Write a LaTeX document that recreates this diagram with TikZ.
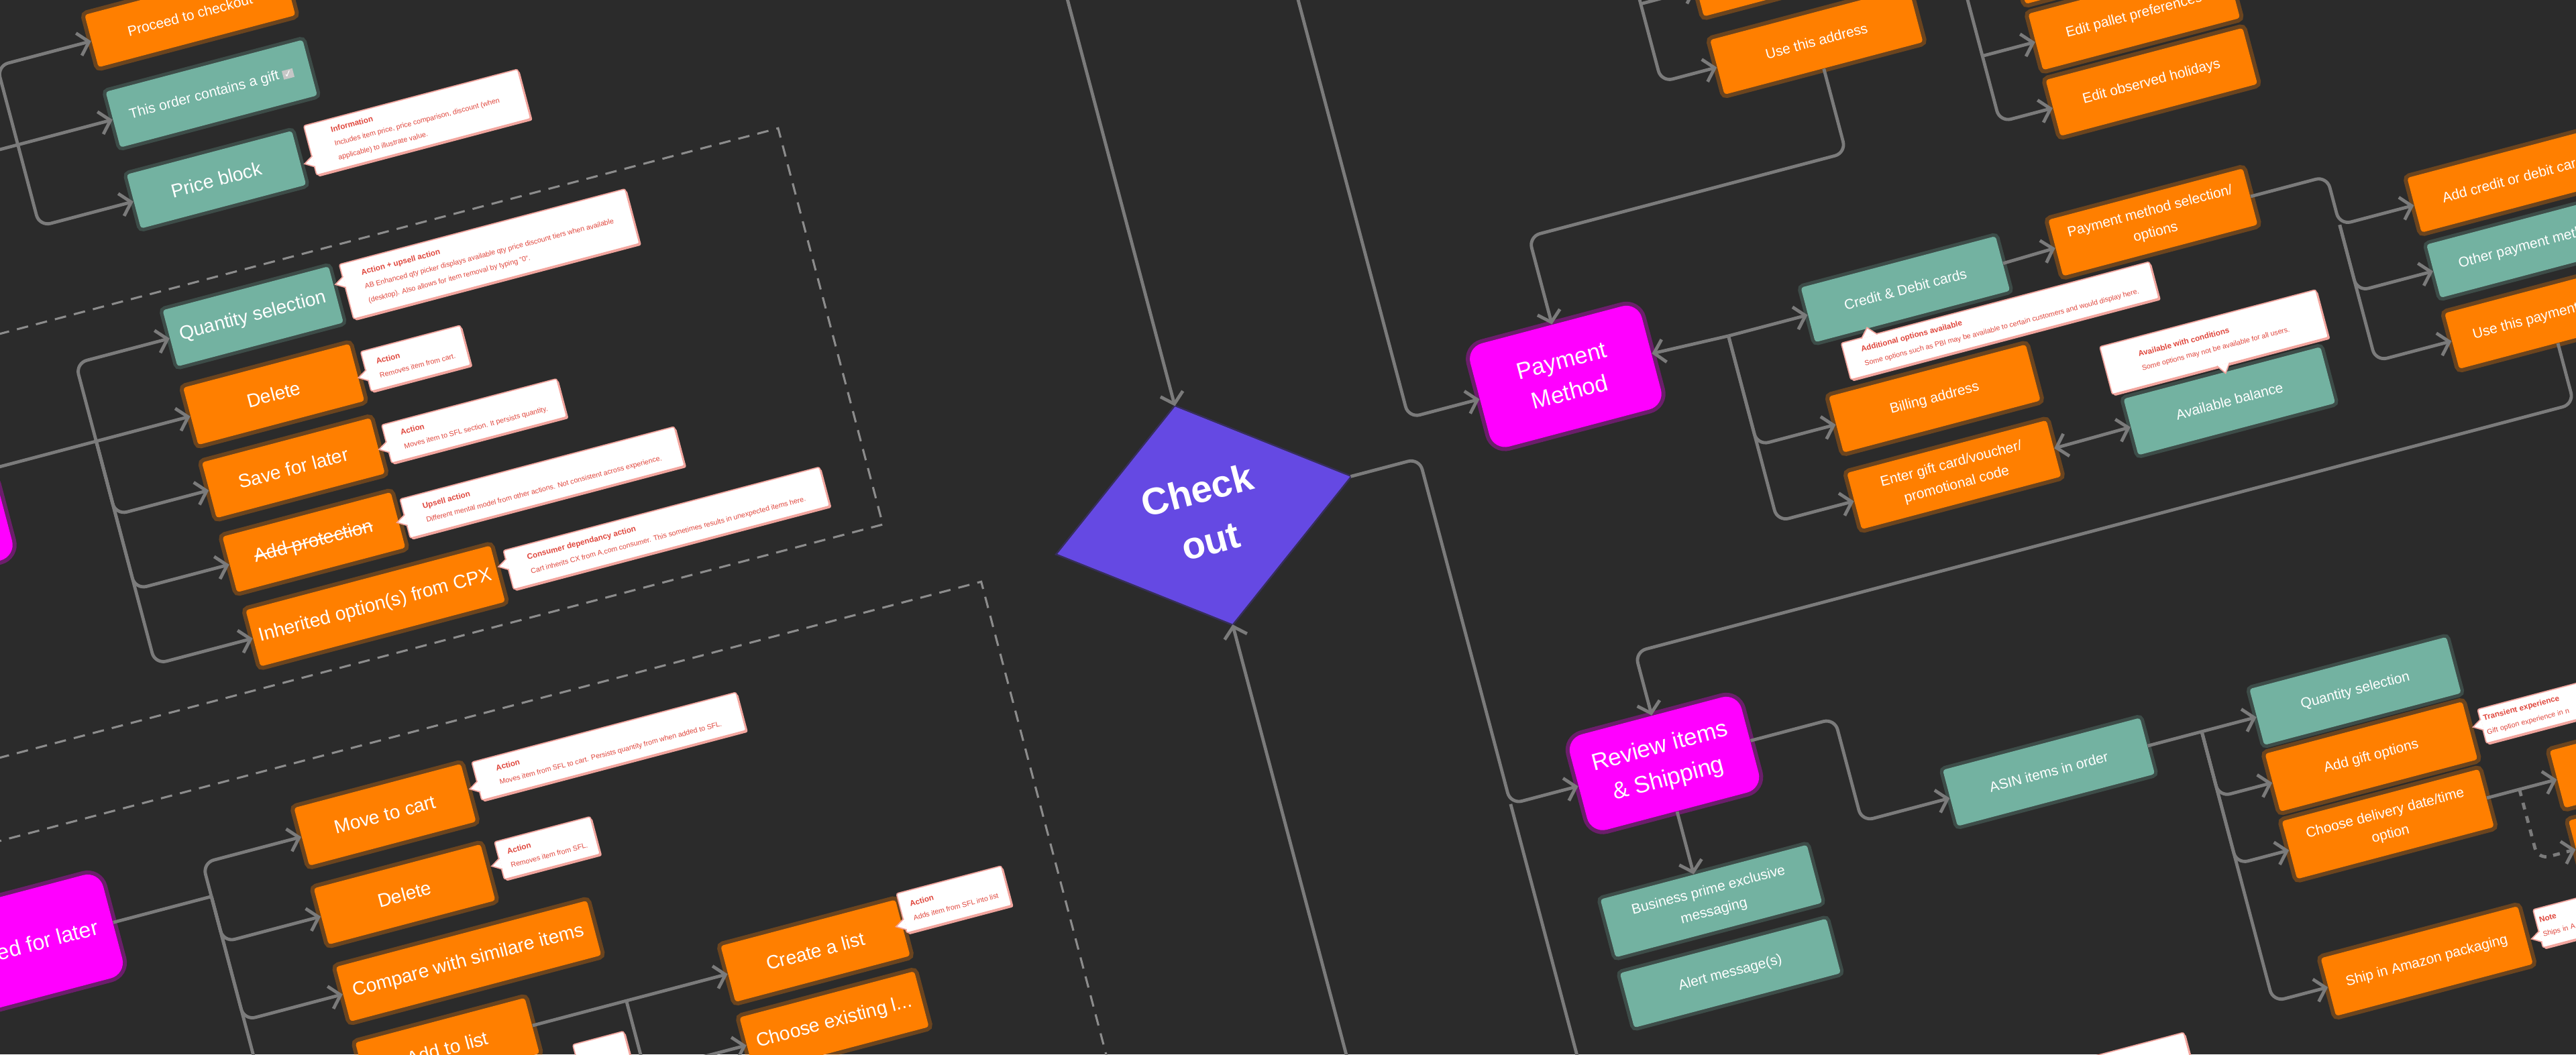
\documentclass[tikz,border=0pt]{standalone}
\usepackage{fontspec}
\setmainfont{Liberation Sans}
\newfontfamily\symfont{DejaVu Sans}
\usetikzlibrary{arrows.meta,shapes.geometric,shadows,calc}
\definecolor{bgc}{HTML}{2B2B2B}
\definecolor{org}{HTML}{FF7F00}
\definecolor{tea}{HTML}{73B2A1}
\definecolor{mag}{HTML}{FF00FF}
\definecolor{vio}{HTML}{6549E3}
\definecolor{lnc}{HTML}{7B7B7B}
\definecolor{dsh}{HTML}{8C8C8C}
\definecolor{calr}{HTML}{E0473D}
\definecolor{calb}{HTML}{F2A59E}
\newcommand\ctitle[1]{{\bfseries\fontsize{3.4}{6.2}\selectfont #1}}
\newsavebox\stbox
\newcommand\strikeit[1]{\sbox\stbox{#1}\rlap{\rule[0.3em]{\wd\stbox}{0.55pt}}\usebox\stbox}
\newcommand\chkbox{{\setlength\fboxsep{0.6pt}\colorbox{white!55!gray}{\symfont\fontsize{4.2}{5}\selectfont\color{white}✓}}}
% left-pointing callout notch: node name, vertical offset from centre
\newcommand\lptr[2]{\fill[ptr] ($(#1.west)+(0.8,#2-3.5)$) -- ($(#1.west)+(-5,#2)$) -- ($(#1.west)+(0.8,#2+3.5)$);}
\begin{document}
\begin{tikzpicture}[x=0.025cm,y=-0.025cm,
  sz/.style 2 args={minimum width=#1*0.025cm,minimum height=#2*0.025cm},
  box/.style={rectangle,rounded corners=1.2pt,inner sep=1pt,text=white,align=center,font=\fontsize{6.1}{9.3}\selectfont},
  lg/.style={font=\fontsize{8.2}{10}\selectfont},
  ob/.style={box,fill=org,preaction={draw=org,line width=3.5pt,opacity=0.3}},
  tb/.style={box,fill=tea,preaction={draw=tea,line width=3pt,opacity=0.25}},
  mb/.style={box,fill=mag,rounded corners=7pt,preaction={draw=mag,line width=3.5pt,opacity=0.3}},
  conn/.style={draw=lnc,line width=1.4pt,rounded corners=5pt},
  arr/.style={conn,-{Straight Barb[length=4.5pt,width=10pt]}},
  dbox/.style={draw=dsh,line width=0.9pt,dash pattern=on 5pt off 3.5pt},
  cal/.style={rectangle,fill=white,draw=calb,line width=0.5pt,rounded corners=0.8pt,inner sep=1.5pt,text=calr,align=left,font=\fontsize{3.1}{6.2}\selectfont,drop shadow={shadow xshift=0.6pt,shadow yshift=-0.9pt,fill=calb,opacity=1}},
  ptr/.style={fill=white,draw=calb,line width=0.5pt},
]
\useasboundingbox (0,0) rectangle (1568,642);
\fill[bgc] (0,0) rectangle (1568,642);
\clip (0,0) rectangle (1568,642);
\begin{scope}[transform canvas={rotate=14.8}]
% dashed group frames
\draw[dbox] (-300,196.5) rectangle (438,446);
\draw[dbox] (-300,495) rectangle (487,1060);
% trunk / source coordinates
\coordinate (t0) at (-12,0);
\coordinate (t1) at (-12,0);
\coordinate (t2) at (-15,0);
\coordinate (t3) at (213,0);
\coordinate (t4) at (764,0);
\coordinate (t7) at (965,0);
\coordinate (t8) at (1342,0);
\coordinate (t9) at (968,0);
\coordinate (t10) at (1182,0);
\coordinate (t11) at (1360,0);
\coordinate (src0) at (-90,0);
\coordinate (src1) at (628.3,60);
\coordinate (src2) at (764,60);
\coordinate (src4) at (628.3,1000);
\coordinate (src5) at (965,120);
\coordinate (src6) at (1158,180);
\coordinate (h1) at (0,377);
\coordinate (h2) at (0,638);
% group 0
\node[ob,sz={124}{33}] (proc) at (109.5,38.4) {Proceed to checkout};
\node[tb,sz={124}{35}] (gift) at (109.9,88) {This order contains a gift \chkbox};
\node[tb,lg,sz={104}{34}] (price) at (99.4,139.4) {Price block};
\node[cal,sz={134.7}{31.1}] (pricec) at (226.5,136.8) {\ctitle{Information}\\Includes item price, price comparison, discount (when\\applicable) to illustrate value.};
\lptr{pricec}{7}
% group 1
\node[mb,sz={130}{55}] (cart) at (-142,302.5) {};
\node[tb,lg,sz={104.5}{35.4}] (qty1) at (99.7,225.6) {Quantity selection};
\node[cal,sz={180}{34.4}] (qty1c) at (248.5,225.6) {\ctitle{Action + upsell action}\\AB Enhanced qty picker displays available qty price discount tiers when available\\(desktop). Also allows for item removal by typing "0".};
\lptr{qty1c}{-6}
\node[ob,lg,sz={104.6}{36}] (del1) at (99.8,274.7) {Delete};
\node[cal,sz={62.7}{25}] (del1c) at (188.9,275.6) {\ctitle{Action}\\Removes item from cart.};
\lptr{del1c}{2.5}
\node[ob,lg,sz={106}{35}] (save1) at (99.9,321.1) {Save for later};
\node[cal,sz={110.2}{24}] (save1c) at (213.6,321.5) {\ctitle{Action}\\Moves item to SFL section. It persists quantity.};
\lptr{save1c}{2}
\node[ob,lg,sz={106}{35}] (prot) at (100.4,368) {\strikeit{Add protection}};
\node[cal,sz={172.7}{24.6}] (protc) at (244.1,368.3) {\ctitle{Upsell action}\\Different mental model from other actions. Not consistent across experience.};
\lptr{protc}{1}
\node[ob,lg,sz={154}{35.4}] (inh) at (126.7,415.1) {Inherited option(s) from CPX};
\node[cal,sz={199}{24.5}] (inhc) at (310.1,414.6) {\ctitle{Consumer dependancy action}\\Cart inherits CX from A.com consumer. This sometimes results in unexpected items here.};
\lptr{inhc}{-3.5}
% group 2
\node[mb,sz={105}{65},font=\fontsize{9.4}{11}\selectfont] (saved) at (-129.6,560.6) {Saved for later};
\node[ob,lg,sz={105}{36.4}] (move) at (99.9,539.5) {Move to cart};
\node[cal,sz={166.4}{24}] (movec) at (242.3,534) {\ctitle{Action}\\Moves item from SFL to cart. Persists quantity from when added to SFL.};
\lptr{movec}{3.5}
\node[ob,lg,sz={105}{35.4}] (del2) at (99,589.4) {Delete};
\node[cal,sz={60.3}{23.6}] (del2c) at (190.2,584.3) {\ctitle{Action}\\Removes item from SFL.};
\lptr{del2c}{2}
\node[ob,lg,sz={158}{34.4}] (comp) at (126.3,638.6) {Compare with similare items};
\node[ob,lg,sz={106.7}{35}] (addl) at (100.3,686.5) {Add to list};
\node[cal,sz={32}{24}] (addlc) at (190.6,716) {};
\lptr{addlc}{2}
\node[ob,lg,sz={110}{35.3}] (create) at (332,686.5) {Create a list};
\node[cal,sz={66}{24.8}] (createc) at (421.6,677.8) {\ctitle{Action}\\Adds item from SFL into list};
\lptr{createc}{7}
\node[ob,lg,sz={110}{35}] (choose) at (332,731.4) {Choose existing l...};
% center
\node[diamond,fill=vio,sz={184.5}{137},inner sep=0pt,text=white,align=center,font=\bfseries\fontsize{16.4}{22.8}\selectfont,preaction={draw=vio!70!black,line width=1.5pt,opacity=0.4}] (co) at (628.3,490.5) {Check\\out};
\node[mb,sz={108}{65},font=\fontsize{10.1}{14}\selectfont] (pay) at (862.9,465) {Payment\\Method};
% right top
\node[ob,sz={125}{34.4}] (addr0) at (1062.7,257.4) {};
\node[ob,sz={125}{34.4}] (addr) at (1062.7,306.6) {Use this address};
\node[ob,sz={124}{35.4}] (edit0) at (1253.5,299.6) {};
\node[ob,sz={124}{35.4}] (edit1) at (1253.5,341.2) {Edit pallet preferences};
\node[ob,sz={124}{35.3}] (edit2) at (1253.5,382.8) {Edit observed holidays};
\node[tb,sz={122.6}{34.4}] (cred) at (1076.4,466.5) {Credit \& Debit cards};
\node[cal,sz={194}{23}] (credc) at (1127.2,499.8) {\ctitle{Additional options available}\\Some options such as PBI may be available to certain customers and would display here.};
\fill[ptr] ($(credc.north west)+(13,0.8)$) -- ($(credc.north west)+(18,-4.8)$) -- ($(credc.north west)+(23,0.8)$);
\node[ob,sz={122.5}{35.4}] (pms) at (1232.5,465.6) {Payment method selection/\\options};
\node[ob,sz={124}{35.3}] (bill) at (1076.6,535.4) {Billing address};
\node[ob,sz={125.6}{35.4}] (egift) at (1076.2,583.3) {Enter gift card/voucher/\\promotional code};
\node[tb,sz={124}{35.4}] (bal) at (1249.7,582.7) {Available balance};
\node[cal,sz={136}{30}] (balc) at (1249.8,545.6) {\ctitle{Available with conditions}\\Some options may not be available for all users.};
\fill[ptr] ($(balc.south)+(-2,-0.8)$) -- ($(balc.south)+(2,4.8)$) -- ($(balc.south)+(6,-0.8)$);
\node[ob,sz={124}{34.4}] (addcc) at (1451,496.2) {Add credit or debit card};
\node[tb,sz={124}{33.5}] (other) at (1452,538) {Other payment methods};
\node[ob,sz={124}{35}] (usepay) at (1452,582) {Use this payment method};
% bottom right
\node[mb,sz={108}{60},font=\fontsize{10.2}{14.5}\selectfont] (rev) at (860.8,708.2) {Review items\\\& Shipping};
\node[tb,sz={130}{36.5}] (biz) at (867,796.5) {Business prime exclusive\\messaging};
\node[tb,sz={130}{34.3}] (alert) at (867,841.9) {Alert message(s)};
\node[tb,sz={124.2}{35.4}] (asin) at (1085.7,773) {ASIN items in order};
\node[tb,sz={124}{35.3}] (qty2) at (1278.7,773) {Quantity selection};
\node[ob,sz={124.2}{36.4}] (gifto) at (1277.9,814.1) {Add gift options};
\node[cal,anchor=west,text width=4cm,minimum height=21.4*0.025cm] (giftoc) at (1347.4,813.5) {\ctitle{Transient experience}\\Gift option experience in n};
\lptr{giftoc}{-1}
\node[ob,sz={124}{36.4}] (cdd) at (1277.2,856.4) {Choose delivery date/time\\option};
\node[ob,sz={120}{36}] (r1) at (1443.8,856.4) {};
\node[ob,sz={120}{36}] (r2) at (1444,900.5) {};
\node[ob,sz={124}{36.4}] (ship) at (1278.8,943.1) {Ship in Amazon packaging};
\node[cal,anchor=west,text width=1.8cm,minimum height=24*0.025cm] (shipc) at (1348.9,941.3) {\ctitle{Note}\\Ships in A};
\lptr{shipc}{5}
\node[cal,sz={64}{24}] (btc) at (1092.6,959.3) {};
% connectors: group 0
\draw[arr] (src0 |- gift.west) -- (gift.west);
\draw[arr] (t0 |- gift.west) |- (proc.west);
\draw[arr] (t0 |- gift.west) |- (price.west);
% group 1
\draw[arr] (cart.east |- del1.west) -- (del1.west);
\draw[arr] (t1 |- del1.west) |- (qty1.west);
\draw[arr] (t1 |- del1.west) |- (save1.west);
\draw[arr] (t1 |- del1.west) |- (prot.west);
\draw[arr] (t1 |- del1.west) |- (inh.west);
% group 2
\draw[conn] (saved.east) -- (t2 |- saved.east);
\draw[arr] (t2 |- saved.east) |- (move.west);
\draw[arr] (t2 |- saved.east) |- (del2.west);
\draw[arr] (t2 |- saved.east) |- (comp.west);
\draw[arr] (t2 |- saved.east) |- (addl.west);
\draw[arr] (addl.east) -- (create.west);
\draw[arr] (t3 |- create.west) |- (choose.west);
% center
\draw[arr] (src1) -- (co.north);
\draw[arr] (src2) |- (pay.west);
\draw[arr] (co.east) -| (t4 |- rev.west) -- (rev.west);
\draw[conn] (t4 |- rev.west) -- (t4 |- src4);
\draw[arr] (src4) -- (co.south);
% payment
\draw[arr] (addr.south) -- (addr.south |- h1) -| (pay.north);
\draw[arr] (src5) |- (addr.west);
\draw[arr] (src5 |- addr0.west) -- (addr0.west);
\draw[arr] (src6) |- (edit2.west);
\draw[arr] (src6 |- edit1.west) -- (edit1.west);
\draw[arr] (src6 |- edit0.west) -- (edit0.west);
\draw[arr] (t7 |- cred.west) -- (pay.east);
\draw[arr] (t7 |- cred.west) -- (cred.west);
\draw[arr] (t7 |- cred.west) |- (bill.west);
\draw[arr] (t7 |- cred.west) |- (egift.west);
\draw[arr] (cred.east) -- (pms.west);
\draw[conn,{Straight Barb[length=4.5pt,width=10pt]}-{Straight Barb[length=4.5pt,width=10pt]}] (egift.east) -- (bal.west);
\draw[arr] (pms.east) -| (t8 |- addcc.west) -- (addcc.west);
\draw[arr] (t8 |- addcc.west) |- (other.west);
\draw[arr] (t8 |- addcc.west) |- (usepay.west);
\draw[arr] (usepay.south) -- (usepay.south |- h2) -| (rev.north);
% review
\draw[arr] (rev.east) -| (t9 |- asin.west) -- (asin.west);
\draw[arr] (rev.south) -- (rev.south |- biz.north);
\draw[arr] (asin.east) -- (qty2.west);
\draw[arr] (t10 |- asin.east) |- (gifto.west);
\draw[arr] (t10 |- asin.east) |- (cdd.west);
\draw[arr] (t10 |- asin.east) |- (ship.west);
\draw[arr] (cdd.east) -- (r1.west);
\draw[arr,dashed] (t11 |- cdd.east) |- (r2.west);
\end{scope}
\end{tikzpicture}
\end{document}
